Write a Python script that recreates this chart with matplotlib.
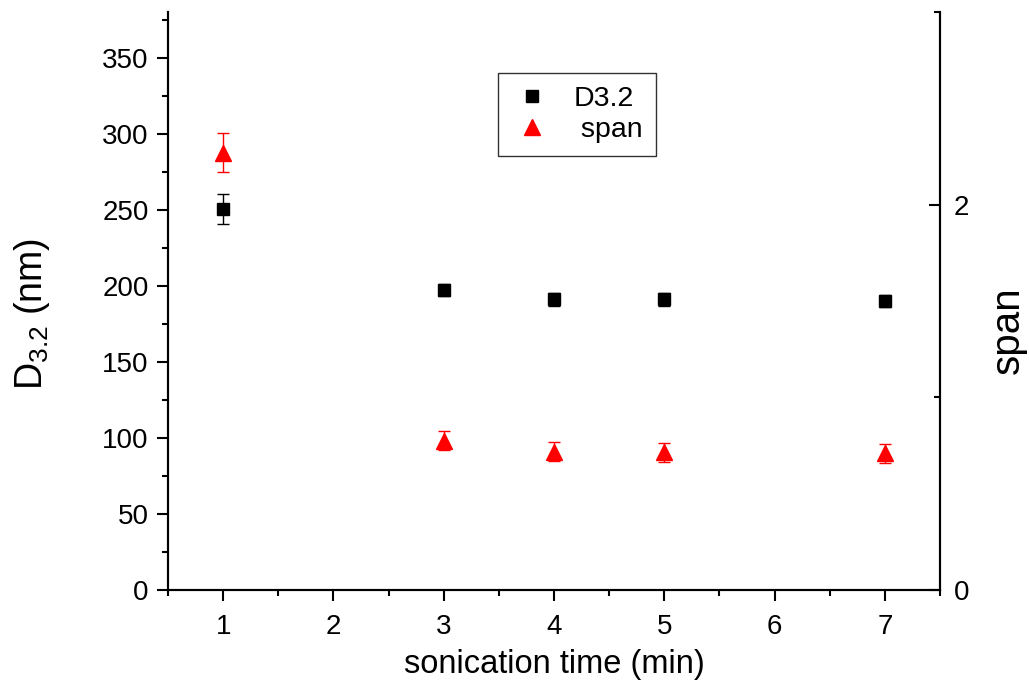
import matplotlib
matplotlib.use("Agg")
import matplotlib.pyplot as plt
from matplotlib.lines import Line2D
from matplotlib.ticker import MultipleLocator, FixedLocator

plt.rcParams["font.family"] = ["Liberation Sans", "DejaVu Sans"]
plt.rcParams["mathtext.fontset"] = "custom"
plt.rcParams["mathtext.rm"] = "Liberation Sans"
plt.rcParams["mathtext.it"] = "Liberation Sans"

# ---------------------------------------------------------------- data
time_min = [1, 3, 4, 5, 7]
d32 = [250.5, 197.2, 191.0, 191.0, 190.0]
d32_err = [10.0, 4.2, 4.2, 4.2, 4.2]
span = [2.27, 0.776, 0.718, 0.715, 0.710]
span_err = [0.10, 0.05, 0.05, 0.05, 0.05]

# ---------------------------------------------------------------- render
fig = plt.figure(figsize=(10.29, 6.88), dpi=100)
ax = fig.add_axes([0.1633, 0.1424, 0.7502, 0.8402])
ax2 = ax.twinx()

ax.errorbar(time_min, d32, yerr=d32_err, fmt="s", color="black", ms=9,
            ecolor="black", elinewidth=1.0, capsize=4.5, capthick=1.0, zorder=3)
ax2.errorbar(time_min, span, yerr=span_err, fmt="^", color="red", ms=11,
             ecolor="red", elinewidth=1.0, capsize=4.5, capthick=1.0, zorder=3)

ax.set_xlim(0.5, 7.5)
ax.set_ylim(0, 380)
ax2.set_ylim(0, 3)

ax.xaxis.set_major_locator(MultipleLocator(1))
ax.xaxis.set_minor_locator(MultipleLocator(0.5))
ax.yaxis.set_major_locator(MultipleLocator(50))
ax.yaxis.set_minor_locator(MultipleLocator(25))
ax2.yaxis.set_major_locator(FixedLocator([0, 2]))
ax2.yaxis.set_minor_locator(FixedLocator([1, 3]))

for a in (ax, ax2):
    a.spines["top"].set_visible(False)
    for s in ("left", "right", "bottom"):
        a.spines[s].set_linewidth(1.5)

ax.tick_params(axis="both", which="major", direction="out", length=8, width=1.5,
               labelsize=20, pad=6)
ax.tick_params(axis="x", which="major", pad=9)
ax.tick_params(axis="both", which="minor", direction="out", length=4.5, width=1.5)
ax2.tick_params(axis="y", which="major", direction="in", length=8, width=1.5,
                labelsize=20, pad=10)
ax2.tick_params(axis="y", which="minor", direction="in", length=4.5, width=1.5)

ax.set_xlabel("sonication time (min)", fontsize=23.5, labelpad=7)
ax.set_ylabel(r"D$_{\mathrm{3.2}}$ (nm)", fontsize=27, labelpad=36)
ax2.set_ylabel("span", fontsize=29, labelpad=14)
ax.yaxis.label.set_y(0.477)
ax2.yaxis.label.set_y(0.45)

handles = [Line2D([], [], ls="none", marker="s", color="black", ms=9),
           Line2D([], [], ls="none", marker="^", color="red", ms=11)]
leg = ax2.legend(handles, ["D3.2", " span"], loc="upper left",
                 bbox_to_anchor=(0.4275, 0.8945), borderaxespad=0,
                 fontsize=20.5, frameon=True, fancybox=False, handlelength=1.5,
                 handletextpad=0.7, borderpad=0.45, labelspacing=0.2)
leg.get_frame().set_edgecolor("black")
leg.get_frame().set_linewidth(1.0)

fig.savefig("out.png", dpi=100)
